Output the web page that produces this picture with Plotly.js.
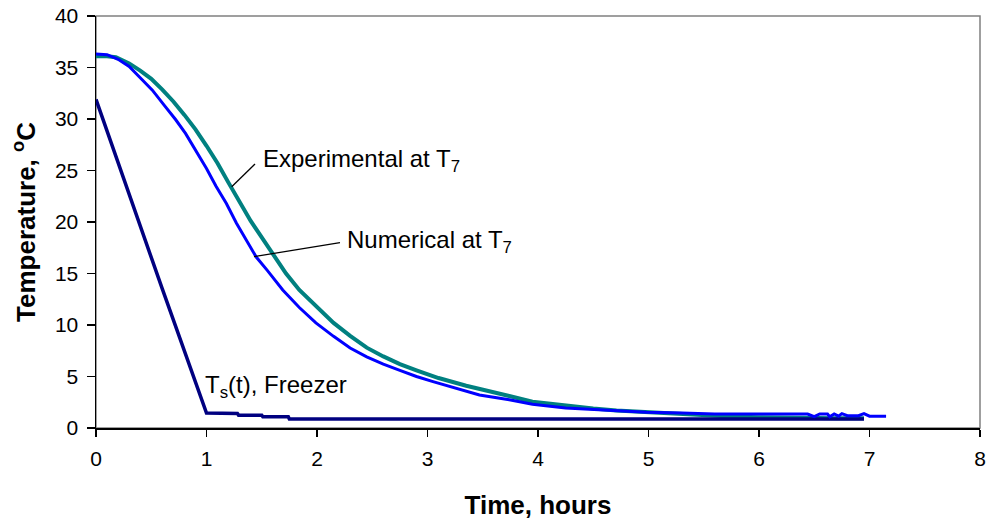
<!DOCTYPE html>
<html>
<head>
<meta charset="utf-8">
<script src="https://cdn.plot.ly/plotly-3.0.1.min.js"></script>
<style>html,body{margin:0;padding:0;background:#fff;}#chart{width:992px;height:523px;}</style>
</head>
<body>
<div id="chart"></div>
<script>
// Freezer surface temperature Ts(t)
const freezerTime = [0, 0.1, 0.2, 0.3, 0.42, 0.5, 0.6, 0.7, 0.8, 0.9, 0.99, 1.0, 1.28, 1.29, 1.5, 1.51, 1.74, 1.75, 3.0, 4.0, 5.0, 6.0, 6.95];
const freezerTemp = [31.9, 28.8, 25.8, 22.7, 19.0, 16.6, 13.5, 10.5, 7.5, 4.5, 1.8, 1.45, 1.4, 1.25, 1.25, 1.1, 1.1, 0.87, 0.87, 0.87, 0.87, 0.87, 0.87];

// Experimental at T7
const expTime = [0, 0.1, 0.18, 0.25, 0.3, 0.4, 0.5, 0.6, 0.7, 0.8, 0.9, 1.0, 1.1, 1.2, 1.3, 1.4, 1.5, 1.6, 1.72, 1.84, 2.0, 2.15, 2.3, 2.45, 2.6, 2.75, 2.9, 3.1, 3.35, 3.55, 3.74, 3.95, 4.25, 4.5, 4.71, 5.0, 5.34, 5.7, 6.0, 6.37, 6.7, 6.95];
const expTemp = [36.1, 36.1, 36.0, 35.7, 35.4, 34.7, 33.9, 32.85, 31.7, 30.4, 29.0, 27.4, 25.7, 23.8, 21.9, 20.1, 18.5, 16.85, 15.0, 13.4, 11.7, 10.2, 8.95, 7.8, 6.95, 6.2, 5.6, 4.85, 4.1, 3.55, 3.1, 2.55, 2.16, 1.9, 1.71, 1.52, 1.29, 1.13, 1.05, 0.97, 0.95, 0.95];

// Numerical at T7
const numTime = [0, 0.1, 0.2, 0.3, 0.4, 0.51, 0.62, 0.72, 0.81, 0.9, 1.0, 1.085, 1.18, 1.27, 1.36, 1.45, 1.55, 1.69, 1.84, 1.99, 2.15, 2.3, 2.45, 2.6, 2.75, 2.9, 3.05, 3.2, 3.47, 3.74, 3.95, 4.25, 4.5, 4.71, 4.98, 5.3, 5.6, 6.44, 6.5, 6.55, 6.62, 6.64, 6.68, 6.72, 6.75, 6.8, 6.9, 6.95, 7.0, 7.15];
const numTemp = [36.3, 36.25, 35.8, 35.1, 34.0, 32.8, 31.3, 29.95, 28.6, 27.0, 25.2, 23.5, 21.8, 19.9, 18.3, 16.6, 15.3, 13.4, 11.7, 10.2, 8.9, 7.77, 6.9, 6.2, 5.6, 5.0, 4.5, 4.04, 3.2, 2.75, 2.3, 1.95, 1.8, 1.71, 1.52, 1.45, 1.36, 1.36, 1.1, 1.36, 1.36, 1.1, 1.36, 1.15, 1.4, 1.2, 1.2, 1.4, 1.15, 1.13];

const xTicks = [0, 1, 2, 3, 4, 5, 6, 7, 8];
const yTicks = [0, 5, 10, 15, 20, 25, 30, 35, 40];

const FONT = 'Liberation Sans, Arial, sans-serif';

const traces = [
  {x: expTime, y: expTemp, mode: 'lines', name: 'Experimental at T7', line: {color: '#008080', width: 4}},
  {x: freezerTime, y: freezerTemp, mode: 'lines', name: 'Ts(t), Freezer', line: {color: '#000080', width: 3.5}},
  {x: numTime, y: numTemp, mode: 'lines', name: 'Numerical at T7', line: {color: '#0000FF', width: 3}}
];

const layout = {
  width: 992, height: 523,
  margin: {l: 96, r: 12, t: 16, b: 95},
  paper_bgcolor: '#ffffff', plot_bgcolor: '#ffffff',
  showlegend: false,
  font: {family: FONT, color: '#000', size: 21},
  xaxis: {
    range: [0, 8], tickvals: xTicks, ticktext: xTicks.map(String),
    showgrid: false, zeroline: false,
    showline: true, linecolor: '#000', linewidth: 1.5,
    ticks: 'outside', ticklen: 7, tickwidth: 1.5, tickcolor: '#000',
    tickfont: {family: FONT, size: 21, color: '#000'},
    ticklabelstandoff: 4,
    title: {text: '<b>Time, hours</b>', font: {family: FONT, size: 26, color: '#000'}, standoff: 27}
  },
  yaxis: {
    range: [0, 40], tickvals: yTicks, ticktext: yTicks.map(String),
    showgrid: false, zeroline: false,
    showline: true, linecolor: '#000', linewidth: 1.5,
    ticks: 'outside', ticklen: 8, tickwidth: 1.5, tickcolor: '#000',
    tickfont: {family: FONT, size: 21, color: '#000'},
    ticklabelstandoff: 4,
    title: {text: '<b>Temperature, <sup>o</sup>C</b>', font: {family: FONT, size: 26, color: '#000'}, standoff: 12}
  },
  shapes: [
    {type: 'rect', xref: 'paper', yref: 'paper', x0: 0, x1: 1, y0: 0, y1: 1, line: {color: '#808080', width: 1.5}, layer: 'below'},
    {type: 'line', xref: 'x', yref: 'y', x0: 1.228, y0: 23.43, x1: 1.439, y1: 25.63, line: {color: '#000', width: 1.3}},
    {type: 'line', xref: 'x', yref: 'y', x0: 1.43, y0: 16.64, x1: 2.208, y1: 18.0, line: {color: '#000', width: 1.3}}
  ],
  annotations: [
    {x: 1.49, y: 26.0, xref: 'x', yref: 'y', text: 'Experimental at T<sub>7</sub>', showarrow: false, xanchor: 'left', yanchor: 'middle', font: {family: FONT, size: 24, color: '#000'}},
    {x: 2.25, y: 18.1, xref: 'x', yref: 'y', text: 'Numerical at T<sub>7</sub>', showarrow: false, xanchor: 'left', yanchor: 'middle', font: {family: FONT, size: 24, color: '#000'}},
    {x: 0.97, y: 4.03, xref: 'x', yref: 'y', text: 'T<sub>s</sub>(t), Freezer', showarrow: false, xanchor: 'left', yanchor: 'middle', font: {family: FONT, size: 24, color: '#000'}}
  ]
};

Plotly.newPlot('chart', traces, layout, {staticPlot: true, displayModeBar: false});
</script>
</body>
</html>
